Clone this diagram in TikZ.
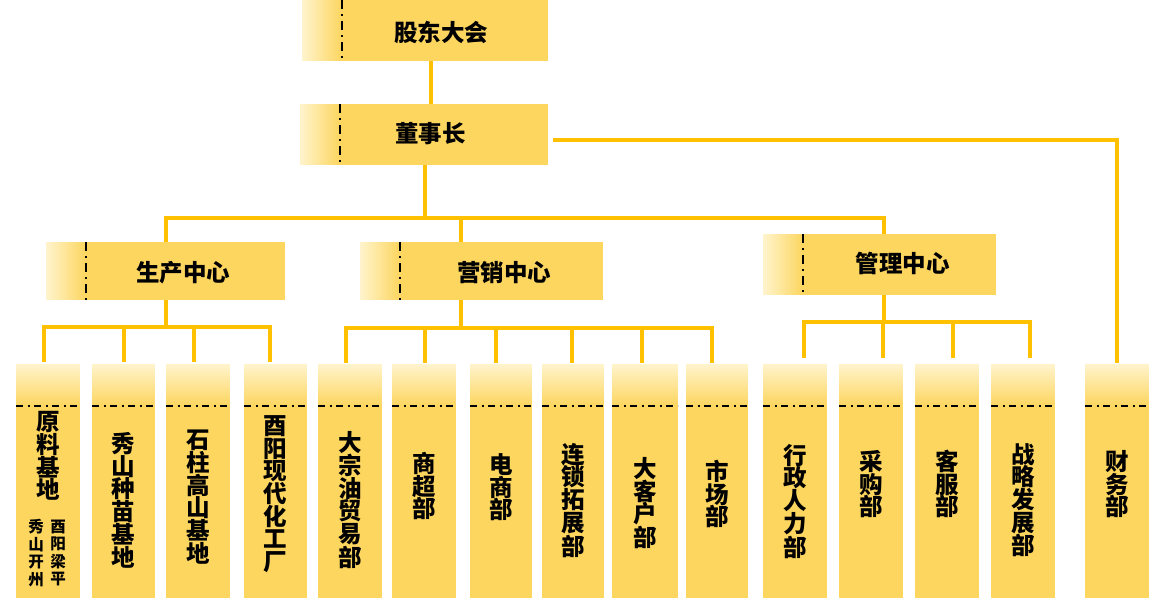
\documentclass[tikz,border=0pt]{standalone}
\usepackage{fontspec}
\newfontfamily\cjk{Noto Sans CJK SC}
\definecolor{boxy}{RGB}{253,214,96}
\definecolor{cream}{RGB}{255,244,206}
\definecolor{linec}{RGB}{255,192,0}
\tikzset{
  conn/.style={draw=linec, line width=4pt},
  ddv/.style={black, line width=1.8pt, dash pattern=on 9pt off 5pt on 2pt off 5pt},
  ddh/.style={black, line width=1.8pt, dash pattern=on 7pt off 4.5pt on 2pt off 4.5pt},
  tbox/.style={anchor=north west, minimum width=#1, minimum height=61pt, inner sep=0pt, fill=boxy,
    path picture={
      \foreach \i in {0,...,19}{
        \pgfmathsetmacro\p{100-(\i+0.5)*5}
        \fill[cream!\p!boxy] ([xshift=2*\i pt]path picture bounding box.north west) rectangle ([xshift=2*\i pt+2.3pt]path picture bounding box.south west);
      }
      \draw[ddv] ([xshift=40pt]path picture bounding box.north west) -- ([xshift=40pt]path picture bounding box.south west);
    }},
  bbox/.style={anchor=north west, minimum width=#1, minimum height=234pt, inner sep=0pt, fill=boxy,
    path picture={
      \foreach \i in {0,...,20}{
        \pgfmathsetmacro\p{100-(\i+0.5)*100/21}
        \fill[cream!\p!boxy] ([yshift=-2*\i pt]path picture bounding box.north west) rectangle ([yshift=-2*\i pt-2.3pt]path picture bounding box.north east);
      }
      \draw[ddh] ([yshift=-42pt]path picture bounding box.north west) -- ([yshift=-42pt]path picture bounding box.north east);
    }},
  bbox/.default=64pt,
  ttl/.style={font=\cjk\bfseries\fontsize{23.5}{24}\selectfont},
  vt/.style={font=\cjk\bfseries\fontsize{23.5}{22.7}\selectfont, align=center, inner sep=0pt},
  vts/.style={font=\cjk\bfseries\fontsize{15.5}{17.5}\selectfont, align=center, inner sep=0pt},
}
\begin{document}
\begin{tikzpicture}[x=1pt,y=-1pt]
\useasboundingbox (0,0) rectangle (1164,602);
% top boxes
\node[tbox=246pt] (gd) at (302,0) {};
\node[ttl] at ([shift={(16,1.5)}]gd.center) {股东大会};
\node[tbox=248pt] (dsz) at (300,104) {};
\node[ttl] at ([shift={(6.5,-1)}]dsz.center) {董事长};
\node[tbox=239pt, minimum height=58pt] (sc) at (46,242) {};
\node[ttl] at ([shift={(17.5,1.5)}]sc.center) {生产中心};
\node[tbox=243pt, minimum height=58pt] (yx) at (360,242) {};
\node[ttl] at ([shift={(22.5,1.5)}]yx.center) {营销中心};
\node[tbox=233pt] (gl) at (763,234) {};
\node[ttl] at ([shift={(23,-1)}]gl.center) {管理中心};
% bottom boxes
\node[bbox] (c1) at (16,364) {};
\node[bbox=63pt] (c2) at (92,364) {};
\node[bbox] (c3) at (166,364) {};
\node[bbox=63pt] (c4) at (244,364) {};
\node[bbox] (m1) at (318,364) {};
\node[bbox] (m2) at (392,364) {};
\node[bbox=62pt] (m3) at (470,364) {};
\node[bbox=62pt] (m4) at (542,364) {};
\node[bbox=66pt] (m5) at (612,364) {};
\node[bbox=62pt] (m6) at (686,364) {};
\node[bbox] (g1) at (763,364) {};
\node[bbox] (g2) at (839,364) {};
\node[bbox] (g3) at (915,364) {};
\node[bbox] (g4) at (991,364) {};
\node[bbox] (cw) at (1085,364) {};
% texts
\node[vt] at ([shift={(0.5,-25)}]c1.center) {原\\料\\基\\地};
\node[vts] at ([shift={(-12,72)}]c1.center) {秀\\山\\开\\州};
\node[vts] at ([shift={(10,72)}]c1.center) {酉\\阳\\梁\\平};
\node[vt] at ([shift={(0,19)}]c2.center) {秀\\山\\种\\苗\\基\\地};
\node[vt] at ([shift={(0,16)}]c3.center) {石\\柱\\高\\山\\基\\地};
\node[vt] at ([shift={(0,13)}]c4.center) {酉\\阳\\现\\代\\化\\工\\厂};
\node[vt] at ([shift={(0,19)}]m1.center) {大\\宗\\油\\贸\\易\\部};
\node[vt] at ([shift={(0,5)}]m2.center) {商\\超\\部};
\node[vt] at ([shift={(0,6)}]m3.center) {电\\商\\部};
\node[vt] at ([shift={(0,19)}]m4.center) {连\\锁\\拓\\展\\部};
\node[vt] at ([shift={(0,22)}]m5.center) {大\\客\\户\\部};
\node[vt] at ([shift={(0,13)}]m6.center) {市\\场\\部};
\node[vt] at ([shift={(0,20)}]g1.center) {行\\政\\人\\力\\部};
\node[vt] at ([shift={(0,3)}]g2.center) {采\\购\\部};
\node[vt] at ([shift={(0,3)}]g3.center) {客\\服\\部};
\node[vt] at ([shift={(0,19)}]g4.center) {战\\略\\发\\展\\部};
\node[vt] at ([shift={(0,3)}]cw.center) {财\\务\\部};
% connectors
\draw[conn] ([shift={(6,0)}]gd.south) -- ([shift={(6,0)}]gd.south |- dsz.north);
\draw[conn,shorten >=1pt] ([shift={(5,5.5)}]dsz.east) -| (cw.north);
\draw[conn] ([shift={(1,0)}]dsz.south) -- ++(0,53) coordinate (bus);
\draw[conn] (bus) -| ([shift={(0.5,0)}]sc.north);
\draw[conn] (bus) -| ([shift={(4.5,0)}]gl.north);
\draw[conn] ([shift={(-20.5,0)}]yx.north) -- ([shift={(-20.5,0)}]yx.north |- bus);
% production
\draw[conn] ([shift={(0.5,0)}]sc.south) -- ++(0,27) coordinate (sb);
\foreach \n/\d in {c1/-4, c2/0.5, c3/-4, c4/-5.5}
  \draw[conn, shorten >=2pt] (sb) -| ([shift={(\d,0)}]\n.north);
% marketing
\draw[conn] ([shift={(-20.5,0)}]yx.south) -- ++(0,28) coordinate (mb);
\foreach \n/\d in {m1/-4, m2/1, m3/-5, m4/-1, m5/-3, m6/-5}
  \draw[conn, shorten >=1.5pt] (mb) -| ([shift={(\d,0)}]\n.north);
% management
\draw[conn] ([shift={(4.5,0)}]gl.south) -- ++(0,27) coordinate (gb);
\foreach \n/\d in {g1/9, g2/12, g3/6, g4/7}
  \draw[conn, shorten >=6pt] (gb) -| ([shift={(\d,0)}]\n.north);
\end{tikzpicture}
\end{document}
